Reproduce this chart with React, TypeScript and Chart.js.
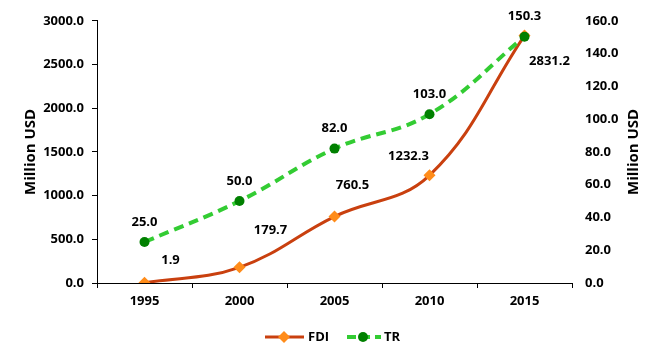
import React, { useEffect, useRef } from "react";
import { Chart, registerables } from "chart.js";

Chart.register(...registerables);

const years = ["1995", "2000", "2005", "2010", "2015"];
const fdiValues = [1.9, 179.7, 760.5, 1232.3, 2831.2];
const trValues = [25.0, 50.0, 82.0, 103.0, 150.3];
const leftMax = 3000;
const leftStep = 500;
const rightMax = 160;
const rightStep = 20;
const axisTitle = "Million USD";
const legendNames = ["FDI", "TR"];

// label offsets (pixels) relative to each point
const fdiLabelOffsets = [[26, -23], [31, -37], [18, -31], [-21, -19], [25, 26]];
const trLabelOffsets = [[0, -20], [0, -20], [0, -20], [0, -20], [0, -20]];

const FONT = "'Open Sans', Lato, sans-serif";
const FDI_LINE = "#C9400F";
const FDI_MARK = "#FF8C1A";
const TR_LINE = "#33CC33";
const TR_MARK = "#008000";

const overlayPlugin = {
  id: "overlay",
  afterDatasetsDraw(chart: any) {
    const ctx = chart.ctx;
    ctx.save();
    ctx.fillStyle = "#000";
    ctx.font = `bold 13px ${FONT}`;
    ctx.textAlign = "center";
    ctx.textBaseline = "middle";
    chart.data.datasets.forEach((ds: any, di: number) => {
      const meta = chart.getDatasetMeta(di);
      const offs = ds.label === "FDI" ? fdiLabelOffsets : trLabelOffsets;
      meta.data.forEach((pt: any, i: number) => {
        const v = ds.data[i];
        ctx.fillText(Number(v).toFixed(1), pt.x + offs[i][0], pt.y + offs[i][1]);
      });
    });
    // axis titles
    ctx.font = `bold 15px ${FONT}`;
    const cy = (chart.chartArea.top + chart.chartArea.bottom) / 2;
    ctx.save();
    ctx.translate(31, cy);
    ctx.rotate(-Math.PI / 2);
    ctx.fillText(axisTitle, 0, 0);
    ctx.restore();
    ctx.save();
    ctx.translate(634, cy);
    ctx.rotate(-Math.PI / 2);
    ctx.fillText(axisTitle, 0, 0);
    ctx.restore();

    // legend
    const ly = 337;
    ctx.lineCap = "butt";
    ctx.strokeStyle = FDI_LINE;
    ctx.lineWidth = 3;
    ctx.setLineDash([]);
    ctx.beginPath();
    ctx.moveTo(265, ly);
    ctx.lineTo(304, ly);
    ctx.stroke();
    ctx.fillStyle = FDI_MARK;
    ctx.beginPath();
    ctx.moveTo(284, ly - 6);
    ctx.lineTo(290, ly);
    ctx.lineTo(284, ly + 6);
    ctx.lineTo(278, ly);
    ctx.closePath();
    ctx.fill();
    ctx.fillStyle = "#000";
    ctx.textAlign = "left";
    ctx.font = `bold 13px ${FONT}`;
    ctx.fillText(legendNames[0], 308, ly);
    ctx.strokeStyle = TR_LINE;
    ctx.lineWidth = 4;
    ctx.setLineDash([9, 5]);
    ctx.beginPath();
    ctx.moveTo(347, ly);
    ctx.lineTo(381, ly);
    ctx.stroke();
    ctx.setLineDash([]);
    ctx.fillStyle = TR_MARK;
    ctx.beginPath();
    ctx.arc(363, ly, 5, 0, Math.PI * 2);
    ctx.fill();
    ctx.fillStyle = "#000";
    ctx.fillText(legendNames[1], 384, ly);
    ctx.restore();
  },
};

export default function App() {
  const ref = useRef<HTMLCanvasElement>(null);
  useEffect(() => {
    document.body.style.margin = "0";
    const tickFont = { family: FONT, size: 13, weight: "bold" as const };
    const chart = new Chart(ref.current!, {
      type: "line",
      data: {
        labels: years,
        datasets: [
          {
            label: "FDI",
            data: fdiValues,
            yAxisID: "y",
            borderColor: FDI_LINE,
            borderWidth: 3,
            backgroundColor: FDI_MARK,
            pointStyle: "rectRot",
            pointRadius: 6,
            pointBorderWidth: 0,
            pointBackgroundColor: FDI_MARK,
            pointBorderColor: FDI_MARK,
            tension: 0.4,
            fill: false,
            order: 1,
          },
          {
            label: "TR",
            data: trValues,
            yAxisID: "y1",
            borderColor: TR_LINE,
            borderWidth: 4,
            borderDash: [10, 6],
            backgroundColor: TR_MARK,
            pointStyle: "circle",
            pointRadius: 5,
            pointBorderWidth: 0,
            pointBackgroundColor: TR_MARK,
            pointBorderColor: TR_MARK,
            tension: 0.4,
            fill: false,
            order: 0,
          },
        ],
      },
      options: {
        animation: false,
        responsive: false,
        devicePixelRatio: 1,
        layout: { padding: { top: 19, left: 0, right: 0, bottom: 0 } },
        plugins: { legend: { display: false }, tooltip: { enabled: false } },
        scales: {
          x: {
            type: "category",
            offset: true,
            grid: {
              offset: true,
              drawOnChartArea: false,
              drawTicks: true,
              tickLength: 5,
              color: "#000",
            },
            border: { display: true, color: "#000", width: 1 },
            ticks: { font: tickFont, color: "#000", padding: 5, maxRotation: 0 },
            afterFit: (s: any) => {
              s.height = 80;
            },
          },
          y: {
            position: "left",
            min: 0,
            max: leftMax,
            grid: { drawOnChartArea: false, drawTicks: true, tickLength: 5, color: "#000" },
            border: { display: true, color: "#000", width: 1 },
            ticks: {
              stepSize: leftStep,
              font: tickFont,
              color: "#000",
              padding: 8,
              callback: (v: any) => Number(v).toFixed(1),
            },
            afterFit: (s: any) => {
              s.width = 97;
            },
          },
          y1: {
            position: "right",
            min: 0,
            max: rightMax,
            grid: { display: false, drawTicks: false },
            border: { display: false },
            ticks: {
              stepSize: rightStep,
              font: tickFont,
              color: "#000",
              padding: 13,
              callback: (v: any) => Number(v).toFixed(1),
            },
            afterFit: (s: any) => {
              s.width = 88;
            },
          },
        },
      },
      plugins: [overlayPlugin],
    });
    return () => chart.destroy();
  }, []);
  return (
    <div style={{ width: 660, height: 363 }}>
      <canvas ref={ref} width={660} height={363} />
    </div>
  );
}
